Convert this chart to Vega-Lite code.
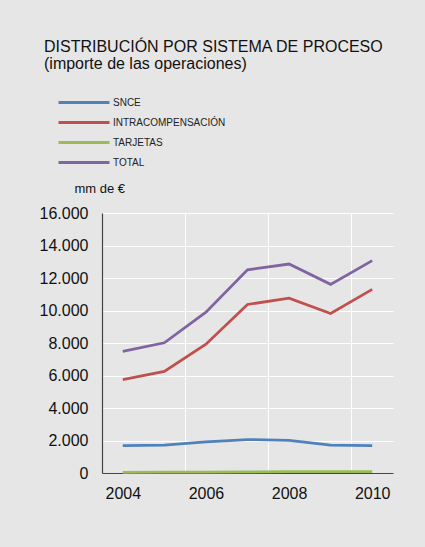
{
  "$schema": "https://vega.github.io/schema/vega-lite/v6.json",
  "autosize": {"type": "none"},
  "width": 291,
  "height": 260,
  "padding": {"left": 102, "top": 213, "right": 32, "bottom": 74},
  "background": "#e6e6e6",
  "title": {
    "text": ["DISTRIBUCIÓN POR SISTEMA DE PROCESO", "(importe de las operaciones)"],
    "anchor": "start",
    "frame": "group",
    "font": "Liberation Sans",
    "fontSize": 16,
    "fontWeight": "normal",
    "color": "#111111",
    "lineHeight": 17,
    "dx": -58,
    "dy": -14,
    "offset": 10
  },
  "data": {
    "values": [
      {"year": 2004, "serie": "SNCE", "value": 1690},
      {"year": 2005, "serie": "SNCE", "value": 1710},
      {"year": 2006, "serie": "SNCE", "value": 1910},
      {"year": 2007, "serie": "SNCE", "value": 2060},
      {"year": 2008, "serie": "SNCE", "value": 2010},
      {"year": 2009, "serie": "SNCE", "value": 1710},
      {"year": 2010, "serie": "SNCE", "value": 1690},
      {"year": 2004, "serie": "INTRACOMPENSACIÓN", "value": 5750},
      {"year": 2005, "serie": "INTRACOMPENSACIÓN", "value": 6250},
      {"year": 2006, "serie": "INTRACOMPENSACIÓN", "value": 7930},
      {"year": 2007, "serie": "INTRACOMPENSACIÓN", "value": 10370},
      {"year": 2008, "serie": "INTRACOMPENSACIÓN", "value": 10760},
      {"year": 2009, "serie": "INTRACOMPENSACIÓN", "value": 9820},
      {"year": 2010, "serie": "INTRACOMPENSACIÓN", "value": 11300},
      {"year": 2004, "serie": "TARJETAS", "value": 40},
      {"year": 2005, "serie": "TARJETAS", "value": 50},
      {"year": 2006, "serie": "TARJETAS", "value": 60},
      {"year": 2007, "serie": "TARJETAS", "value": 70},
      {"year": 2008, "serie": "TARJETAS", "value": 90},
      {"year": 2009, "serie": "TARJETAS", "value": 80},
      {"year": 2010, "serie": "TARJETAS", "value": 80},
      {"year": 2004, "serie": "TOTAL", "value": 7480},
      {"year": 2005, "serie": "TOTAL", "value": 8010},
      {"year": 2006, "serie": "TOTAL", "value": 9900},
      {"year": 2007, "serie": "TOTAL", "value": 12500},
      {"year": 2008, "serie": "TOTAL", "value": 12860},
      {"year": 2009, "serie": "TOTAL", "value": 11610},
      {"year": 2010, "serie": "TOTAL", "value": 13070}
    ]
  },
  "mark": {"type": "line", "strokeWidth": 2.75, "clip": false},
  "encoding": {
    "x": {
      "field": "year",
      "type": "quantitative",
      "scale": {"domain": [2003.5, 2010.5], "nice": false, "zero": false},
      "axis": {
        "title": null,
        "values": [2004, 2005.5, 2006, 2007.5, 2008, 2009.5, 2010],
        "labelExpr": "datum.value % 1 == 0 ? format(datum.value, 'd') : ''",
        "labelOverlap": false,
        "labelFlush": false,
        "labelFont": "Liberation Sans",
        "labelFontSize": 16,
        "labelColor": "#111111",
        "labelPadding": 12,
        "ticks": false,
        "domainColor": "#444444",
        "domainWidth": 1.2,
        "grid": true,
        "gridColor": "#ffffff",
        "gridWidth": 1,
        "gridOpacity": {"condition": {"test": "datum.value % 1 != 0", "value": 1}, "value": 0}
      }
    },
    "y": {
      "field": "value",
      "type": "quantitative",
      "scale": {"domain": [0, 16000], "nice": false},
      "axis": {
        "values": [0, 2000, 4000, 6000, 8000, 10000, 12000, 14000, 16000],
        "labelExpr": "replace(format(datum.value, ','), ',', '.')",
        "labelFont": "Liberation Sans",
        "labelFontSize": 16,
        "labelColor": "#111111",
        "labelPadding": 14,
        "ticks": false,
        "domainColor": "#444444",
        "domainWidth": 1.2,
        "grid": true,
        "gridColor": "#ffffff",
        "gridWidth": 1,
        "title": "mm de €",
        "titleAngle": 0,
        "titleFont": "Liberation Sans",
        "titleFontSize": 13,
        "titleFontWeight": "normal",
        "titleColor": "#111111",
        "titleAlign": "left",
        "titleBaseline": "alphabetic",
        "titleX": -28,
        "titleY": -21
      }
    },
    "color": {
      "field": "serie",
      "type": "nominal",
      "scale": {
        "domain": ["SNCE", "INTRACOMPENSACIÓN", "TARJETAS", "TOTAL"],
        "range": ["#4f81bd", "#c0504d", "#9bbb59", "#8064a2"]
      },
      "legend": {
        "title": null,
        "orient": "none",
        "legendX": -24.5,
        "legendY": -117,
        "padding": 0,
        "symbolType": "M-5.1,0H5.1",
        "symbolSize": 100,
        "symbolStrokeWidth": 3,
        "labelFont": "Liberation Sans",
        "labelFontSize": 10,
        "labelColor": "#222222",
        "labelOffset": 22.5,
        "rowPadding": 7,
        "labelLimit": 300
      }
    }
  },
  "config": {
    "view": {"stroke": null, "fill": null}
  }
}
